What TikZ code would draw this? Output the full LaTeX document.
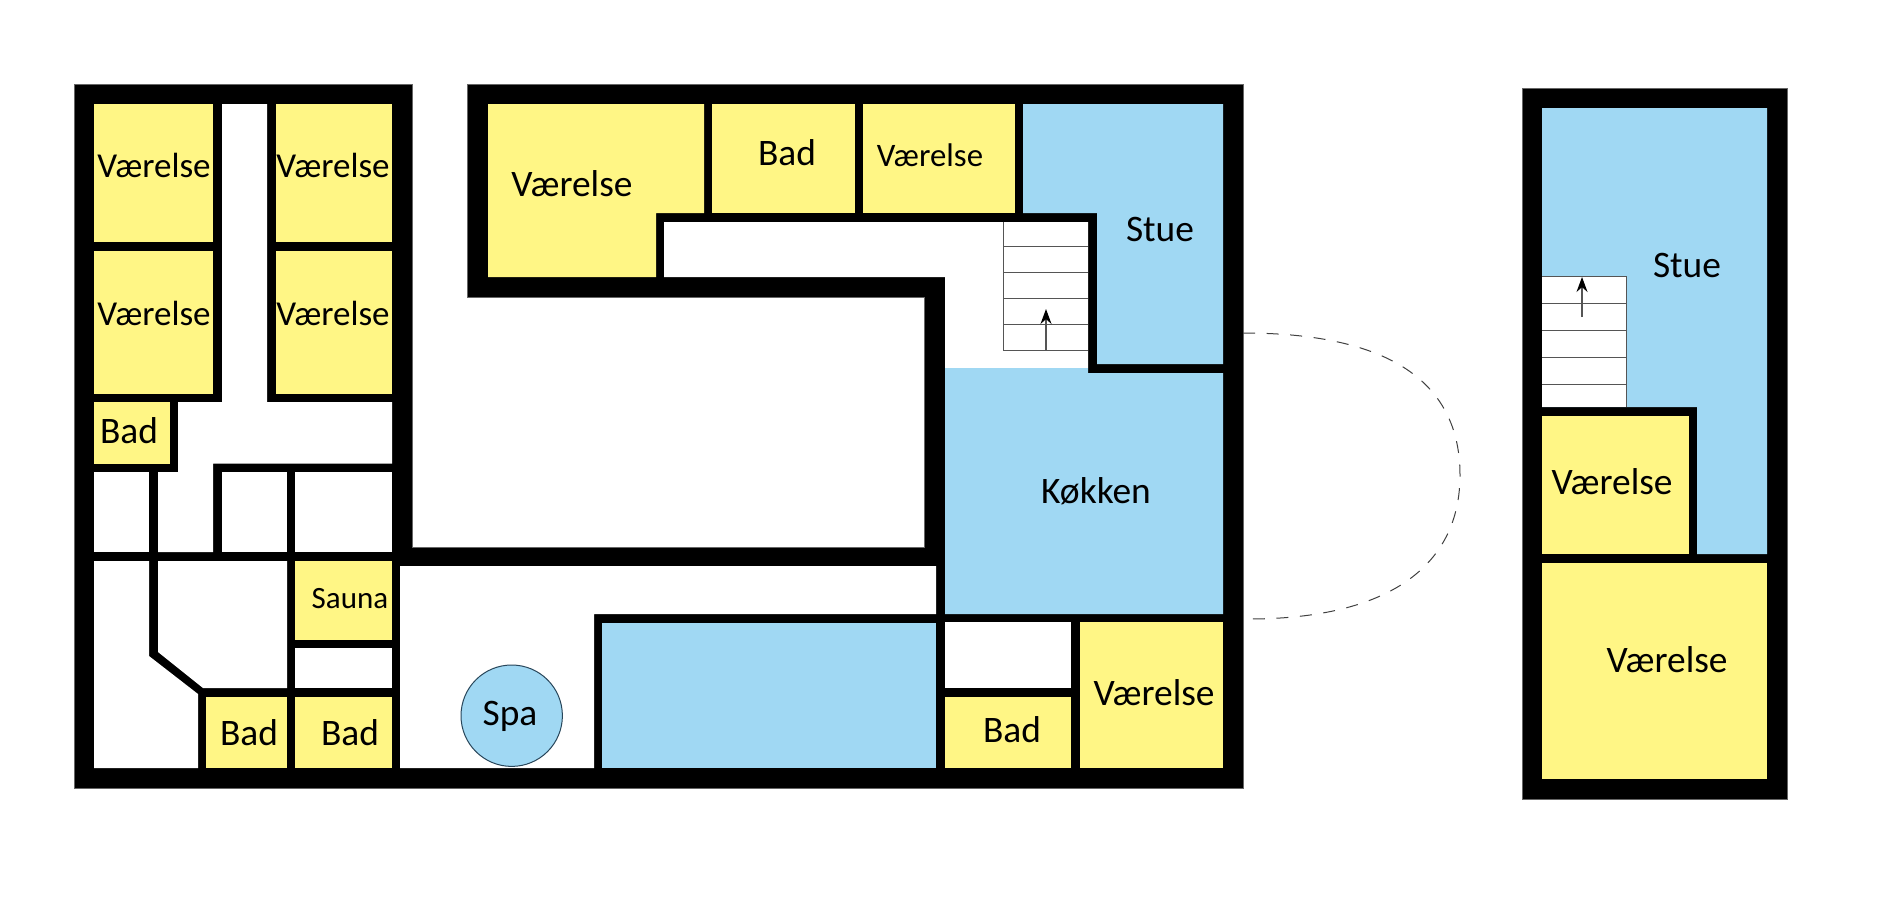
\documentclass[tikz,border=0pt]{standalone}
\usepackage{fontspec}
\setmainfont{Carlito}
\usetikzlibrary{arrows.meta}
\definecolor{ryellow}{RGB}{255,246,133}
\definecolor{rblue}{RGB}{160,216,243}
\definecolor{stairline}{RGB}{85,85,85}
\definecolor{spaedge}{RGB}{40,70,90}
\tikzset{
  wallfill/.style={fill=black,draw=black!60,line width=.3pt},
  yroom/.style={fill=ryellow},
  broom/.style={fill=rblue},
  wroom/.style={fill=white},
  roomtext/.style={anchor=base,inner sep=0pt,font=\fontsize{18.7}{22}\selectfont,text=black},
  midtext/.style={roomtext,font=\fontsize{17.5}{21}\selectfont},
  smalltext/.style={roomtext,font=\fontsize{16.4}{19}\selectfont},
  tinytext/.style={roomtext,font=\fontsize{15.5}{18}\selectfont},
  stairs/.style={draw=stairline,line width=.5pt},
  stairarrow/.style={draw=stairline,line width=.6pt,-{Stealth[length=7.5pt,width=5.5pt,color=black]}},
  linkcurve/.style={draw=black!75,line width=.5pt,dash pattern=on 6pt off 5.8pt},
}
\begin{document}
\begin{tikzpicture}[x=.5pt,y=-.5pt]
\useasboundingbox (0,0) rectangle (1884,900);
% ---- main building walls
\path[wallfill] (74,84) -- (412,84) -- (412,547) -- (924,547) -- (924,297) -- (467,297) -- (467,84)
  -- (1243,84) -- (1243,788) -- (74,788) -- cycle;
% ---- left wing
\path[yroom] (94,104) rectangle (213,242);
\path[yroom] (94,251) rectangle (213,394);
\path[yroom] (276,104) rectangle (392,242);
\path[yroom] (276,251) rectangle (392,394);
\path[yroom] (94,402) rectangle (170,464);
\path[wroom] (222,104) -- (267,104) -- (267,402) -- (392,402) -- (392,463.5) -- (213,463.5) -- (213,552)
  -- (158,552) -- (158,472) -- (178,472) -- (178,402) -- (222,402) -- cycle;
\path[wroom] (94,472) rectangle (149,552);
\path[wroom] (222,472) rectangle (287,552);
\path[wroom] (295,472) rectangle (392,552);
\path[wroom] (94,561) -- (149,561) -- (149,656) -- (198,694) -- (198,768) -- (94,768) -- cycle;
\path[wroom] (158,561) -- (287,561) -- (287,688) -- (203,688) -- (158,652) -- cycle;
\path[yroom] (295,561) rectangle (392,640);
\path[wroom] (295,648) rectangle (392,688);
\path[yroom] (206,697) rectangle (287,768);
\path[yroom] (295,697) rectangle (392,768);
% ---- lower corridor and pool
\path[wroom] (400,566) -- (936,566) -- (936,614) -- (594,614) -- (594,768) -- (400,768) -- cycle;
\path[broom] (602,623) rectangle (936,768);
\node[circle,fill=rblue,draw=spaedge,line width=.5pt,minimum size=50.7pt,inner sep=0pt] (spacircle) at (511.7,715.7) {};
% ---- top and right wing
\path[yroom] (488,104) -- (704,104) -- (704,213) -- (656,213) -- (656,277) -- (488,277) -- cycle;
\path[yroom] (712,104) rectangle (855,213);
\path[yroom] (863,104) rectangle (1015,213);
\path[broom] (1023,104) -- (1223,104) -- (1223,364) -- (1097,364) -- (1097,213) -- (1023,213) -- cycle;
\path[wroom] (664,222) -- (1088,222) -- (1088,368) -- (945,368) -- (945,277) -- (664,277) -- cycle;
\path[broom] (945,368) -- (1088,368) -- (1088,373) -- (1223,373) -- (1223,614) -- (945,614) -- cycle;
\path[wroom] (945,622) rectangle (1071,688);
\path[yroom] (945,697) rectangle (1071,768);
\path[yroom] (1080,622) rectangle (1223,768);
% ---- stairs, main building
\draw[stairs] (1003,222) -- (1003,350) -- (1088,350);
\foreach \yy in {246,272,298,324}{\draw[stairs] (1003,\yy) -- (1088,\yy);}
\coordinate (arrowAfrom) at (1046,350);
\coordinate (arrowAto) at (1046,309);
\draw[stairarrow] (arrowAfrom) -- (arrowAto);
% ---- annex
\path[wallfill] (1522,88) rectangle (1787,799);
\path[broom] (1542,108) -- (1767,108) -- (1767,554) -- (1697,554) -- (1697,407) -- (1542,407) -- cycle;
\path[yroom] (1542,416) rectangle (1689,554);
\path[yroom] (1542,563) rectangle (1767,779);
\path[wroom] (1542,276) rectangle (1626,407);
\draw[stairs] (1542,276) -- (1626,276) -- (1626,407);
\foreach \yy in {303,330,357,384}{\draw[stairs] (1542,\yy) -- (1626,\yy);}
\coordinate (arrowBfrom) at (1582,317);
\coordinate (arrowBto) at (1582,277);
\draw[stairarrow] (arrowBfrom) -- (arrowBto);
% ---- dashed link
\coordinate (linkA) at (1243,333);
\coordinate (linkM) at (1460,475);
\coordinate (linkB) at (1248,619);
\draw[linkcurve] (linkA) .. controls (1370,333) and (1460,370) .. (linkM)
  .. controls (1460,565) and (1390,619) .. (linkB);
% ---- labels
\node[midtext] (v1) at (154,177) {Værelse};
\node[midtext] (v2) at (154,325) {Værelse};
\node[midtext] (v3) at (333,177) {Værelse};
\node[midtext] (v4) at (333,325) {Værelse};
\node[roomtext] (b1) at (129,443) {Bad};
\node[tinytext] (sauna) at (350,608) {Sauna};
\node[roomtext] (b2) at (249,745) {Bad};
\node[roomtext] (b3) at (350,745) {Bad};
\node[roomtext] (spa) at (510,725) {Spa};
\node[roomtext] (v5) at (572,196) {Værelse};
\node[roomtext] (b4) at (787,165) {Bad};
\node[smalltext] (v6) at (930,166) {Værelse};
\node[roomtext] (stue1) at (1160,241) {Stue};
\node[roomtext] (kok) at (1096,503) {Køkken};
\node[roomtext] (b5) at (1012,742) {Bad};
\node[roomtext] (v7) at (1154,705) {Værelse};
\node[roomtext] (stue2) at (1687,277) {Stue};
\node[roomtext] (v8) at (1612,494) {Værelse};
\node[roomtext] (v9) at (1667,672) {Værelse};
\end{tikzpicture}
\end{document}
